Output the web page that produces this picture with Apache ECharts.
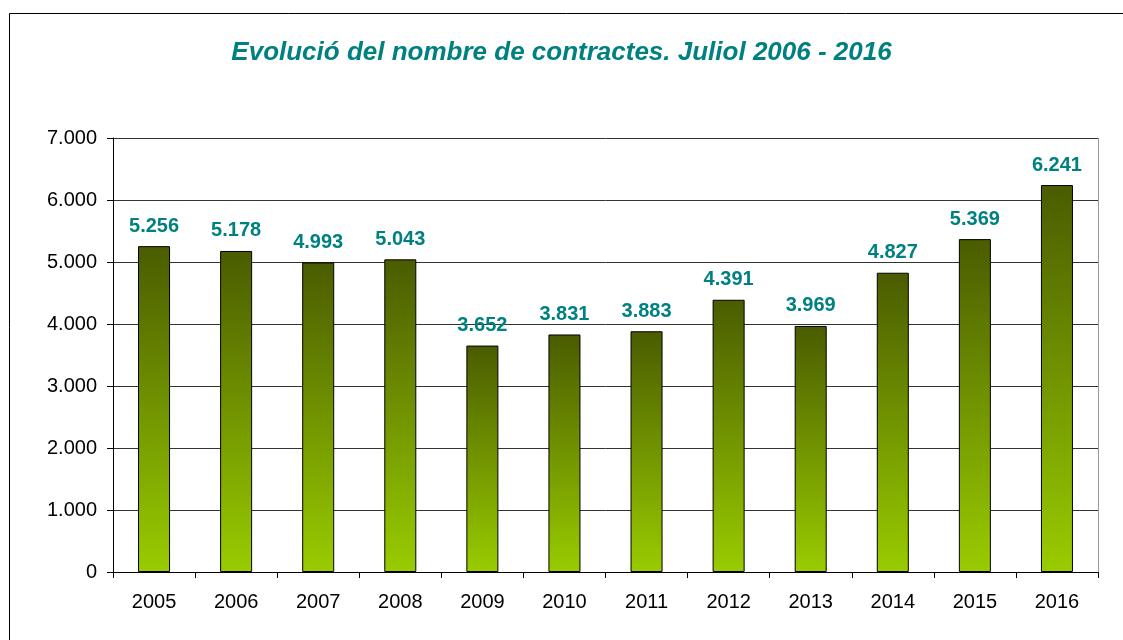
<!DOCTYPE html>
<html>
<head>
<meta charset="utf-8">
<script src="https://cdn.jsdelivr.net/npm/echarts@6/dist/echarts.min.js"></script>
<style>
  html, body { margin: 0; padding: 0; background: #fff; }
  #chart { width: 1123px; height: 640px; }
</style>
</head>
<body>
<div id="chart"></div>
<script>
const years = ['2005', '2006', '2007', '2008', '2009', '2010', '2011', '2012', '2013', '2014', '2015', '2016']
const contracts = [5256, 5178, 4993, 5043, 3652, 3831, 3883, 4391, 3969, 4827, 5369, 6241]

const fmt = (v) => String(v).replace(/\B(?=(\d{3})+(?!\d))/g, '.')

const chart = echarts.init(document.getElementById('chart'))
chart.setOption({
  animation: false,
  textStyle: { fontFamily: 'Liberation Sans, Arial, sans-serif' },
  title: {
    text: 'Evolució del nombre de contractes. Juliol 2006 - 2016',
    left: 'center', top: 35,
    textStyle: { color: '#008080', fontSize: 26, fontWeight: 'bold', fontStyle: 'italic' }
  },
  graphic: [
    { type: 'rect', shape: { x: 9.5, y: 13.5, width: 1200, height: 700 }, style: { fill: 'none', stroke: '#000', lineWidth: 1 }, silent: true },
    { type: 'line', shape: { x1: 1098.5, y1: 138, x2: 1098.5, y2: 572 }, style: { stroke: '#999', lineWidth: 1 }, silent: true }
  ],
  grid: { left: 113, right: 25, top: 138, bottom: 68 },
  xAxis: {
    type: 'category', data: years,
    axisLine: { lineStyle: { color: '#000', width: 1 } },
    axisTick: { show: true, length: 6, lineStyle: { color: '#000' } },
    axisLabel: { color: '#000', fontSize: 20, margin: 20 }
  },
  yAxis: {
    type: 'value', min: 0, max: 7000, interval: 1000,
    axisLine: { show: true, lineStyle: { color: '#000', width: 1 } },
    axisTick: { show: true, length: 6, lineStyle: { color: '#000' } },
    axisLabel: { color: '#000', fontSize: 20, margin: 16, formatter: fmt },
    splitLine: { lineStyle: { color: '#333', width: 1 } }
  },
  series: [{
    type: 'bar', data: contracts, barWidth: '39%',
    itemStyle: {
      borderColor: '#000', borderWidth: 1,
      color: new echarts.graphic.LinearGradient(0, 0, 0, 1, [
        { offset: 0, color: '#4a5c00' },
        { offset: 1, color: '#99cc00' }
      ])
    },
    label: {
      show: true, position: 'top', distance: 10,
      color: '#008080', fontSize: 20, fontWeight: 'bold',
      formatter: (p) => fmt(p.value)
    }
  }]
})
</script>
</body>
</html>
